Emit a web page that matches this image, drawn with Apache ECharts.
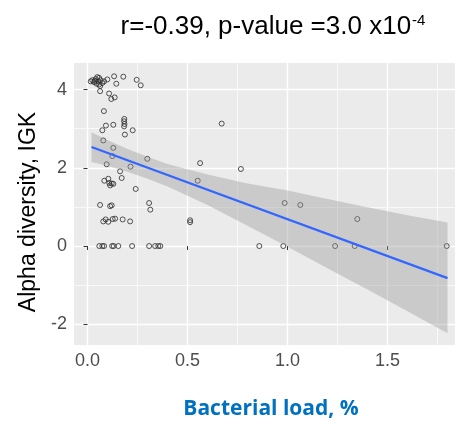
<!DOCTYPE html>
<html>
<head>
<meta charset="utf-8">
<script src="https://cdn.jsdelivr.net/npm/echarts@6/dist/echarts.min.js"></script>
<style>html,body{margin:0;padding:0;background:#fff;}#c{width:455px;height:425px;}</style>
</head>
<body>
<div id="c"></div>
<script>
// Scatter data: bacterial load (%) and alpha diversity (IGK)
const loadX = [0.016,0.024,0.033,0.036,0.041,0.049,0.053,0.046,0.058,0.058,0.066,0.074,0.063,0.083,0.099,0.063,0.133,0.179,0.144,0.246,0.266,0.108,0.119,0.136,0.082,
  0.184,0.183,0.185,0.183,0.129,0.092,0.074,0.226,0.187,0.079,0.129,0.124,0.299,0.096,0.215,0.163,0.171,0.084,0.104,0.109,0.121,0.129,0.113,0.241,
  0.063,0.113,0.121,0.308,0.314,
  0.079,0.091,0.104,0.126,0.138,0.176,0.213,0.513,0.513,
  0.059,0.074,0.083,0.123,0.131,0.154,0.223,0.308,0.338,0.354,0.364,0.859,0.979,1.238,1.336,1.796,
  0.563,0.551,0.671,0.767,0.986,1.064,1.349];
const alphaY = [4.21,4.24,4.19,4.22,4.27,4.32,4.21,4.15,4.13,4.30,4.24,4.17,4.09,4.21,4.26,3.96,4.34,4.33,4.15,4.25,4.11,3.90,3.76,3.80,3.45,
  3.25,3.19,3.12,3.06,3.10,3.08,2.96,2.96,2.85,2.70,2.51,2.30,2.23,2.09,2.03,1.91,1.74,1.67,1.72,1.61,1.60,1.59,1.55,1.46,
  1.05,1.02,1.04,1.10,0.93,
  0.63,0.68,0.62,0.69,0.70,0.68,0.63,0.66,0.61,
  0,0,0,0,0,0,0,0,0,0,0,0,0,0,0,0,
  2.12,1.67,3.13,1.97,1.10,1.05,0.69];

// Fitted line (ends) and confidence band
const fitX = [0.02, 1.8];
const fitY = [2.53, -0.82];
const bandX = [0.02, 0.1, 0.2, 0.3, 0.4, 0.6, 0.8, 1.0, 1.2, 1.4, 1.6, 1.8];
const bandUpper = [2.91, 2.71, 2.48, 2.28, 2.10, 1.83, 1.60, 1.42, 1.20, 0.99, 0.79, 0.60];
const bandLower = [2.15, 2.05, 1.90, 1.72, 1.52, 1.05, 0.52, -0.02, -0.57, -1.11, -1.67, -2.23];

// Tick labels
const xTicks = [0, 0.5, 1.0, 1.5];
const xMinor = [0.25, 0.75, 1.25, 1.75];
const yTicks = [-2, 0, 2, 4];
const yMinor = [-1, 1, 3];

const chart = echarts.init(document.getElementById('c'), null, {renderer: 'canvas'});
const font = '"Liberation Sans", Arial, sans-serif';

const option = {
  animation: false,
  backgroundColor: '#ffffff',
  title: {
    text: '{a|r=-0.39, p-value =3.0 x10}{b|-4}',
    left: 268,
    top: 8,
    textAlign: 'center',
    textStyle: {
      fontWeight: 'normal',
      rich: {
        a: {fontFamily: font, fontSize: 26, fontWeight: 'normal', color: '#000', lineHeight: 28},
        b: {fontFamily: font, fontSize: 15, fontWeight: 'normal', color: '#000', verticalAlign: 'top', lineHeight: 28, padding: [0,0,12,1]}
      }
    }
  },
  grid: {left: 74, top: 63, right: 0, bottom: 79, show: true, backgroundColor: '#EBEBEB', borderWidth: 0, containLabel: false},
  xAxis: [{
    type: 'value', min: -0.0675, max: 1.8375,
    name: 'Bacterial load, %', nameLocation: 'middle', nameGap: 54,
    nameTextStyle: {fontFamily: '"Open Sans", Lato, sans-serif', fontWeight: 'bold', fontSize: 21, color: '#0070C0', padding: [0,0,0,13]},
    axisLine: {show: false},
    axisTick: {show: true, length: 4, customValues: xTicks, lineStyle: {color: '#333', width: 1}},
    axisLabel: {customValues: xTicks, formatter: v => v.toFixed(1), color: '#4D4D4D', fontSize: 18, fontFamily: font, margin: 7},
    splitLine: {show: true, lineStyle: {color: '#ffffff', width: 1.4}}
  }, {
    type: 'value', min: -0.0675, max: 1.8375, position: 'top',
    axisLine: {show: false},
    axisTick: {show: false, customValues: xMinor},
    axisLabel: {show: false, customValues: xMinor},
    splitLine: {show: true, lineStyle: {color: '#ffffff', width: 0.7}}
  }],
  yAxis: [{
    type: 'value', min: -2.53, max: 4.68,
    name: 'Alpha diversity, IGK', nameLocation: 'middle', nameGap: 32, nameRotate: 90,
    nameTextStyle: {fontFamily: font, fontSize: 23, color: '#000', padding: [0,16,0,0]},
    axisLine: {show: false},
    axisTick: {show: true, length: 4, customValues: yTicks, lineStyle: {color: '#333', width: 1}},
    axisLabel: {customValues: yTicks, color: '#4D4D4D', fontSize: 18, fontFamily: font, margin: 7},
    splitLine: {show: true, lineStyle: {color: '#ffffff', width: 1.4}}
  }, {
    type: 'value', min: -2.53, max: 4.68, position: 'right',
    axisLine: {show: false},
    axisTick: {show: false, customValues: yMinor},
    axisLabel: {show: false, customValues: yMinor},
    splitLine: {show: true, lineStyle: {color: '#ffffff', width: 0.7}}
  }],
  series: [
    {
      type: 'scatter',
      xAxisIndex: 0, yAxisIndex: 0,
      data: loadX.map((x, i) => [x, alphaY[i]]),
      symbol: 'circle', symbolSize: 5,
      itemStyle: {color: 'rgba(0,0,0,0)', borderColor: '#2a2a2a', borderWidth: 1},
      silent: true, z: 2
    },
    {
      type: 'custom',
      xAxisIndex: 0, yAxisIndex: 0,
      data: bandX.map((x, i) => [x, bandLower[i], bandUpper[i]]),
      encode: {x: 0, y: [1, 2]},
      renderItem: function (params, api) {
        if (params.dataIndex !== 0) return null;
        const pts = [];
        for (let i = 0; i < bandX.length; i++) pts.push(api.coord([bandX[i], bandUpper[i]]));
        for (let i = bandX.length - 1; i >= 0; i--) pts.push(api.coord([bandX[i], bandLower[i]]));
        return {type: 'polygon', shape: {points: pts}, style: {fill: 'rgba(153,153,153,0.4)', stroke: null}};
      },
      silent: true, z: 3
    },
    {
      type: 'line',
      xAxisIndex: 0, yAxisIndex: 0,
      data: fitX.map((x, i) => [x, fitY[i]]),
      showSymbol: false, symbol: 'none',
      lineStyle: {color: '#3366FF', width: 2.2},
      silent: true, z: 4
    }
  ]
};
chart.setOption(option);
</script>
</body>
</html>
